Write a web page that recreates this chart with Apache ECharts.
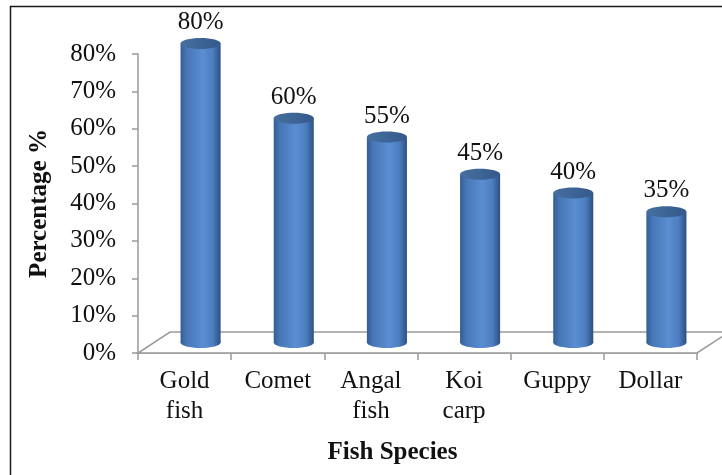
<!DOCTYPE html>
<html>
<head>
<meta charset="utf-8">
<script src="https://cdn.jsdelivr.net/npm/echarts@6/dist/echarts.min.js"></script>
<style>
html,body{margin:0;padding:0;background:#fff;}
#chart{width:722px;height:475px;}
</style>
</head>
<body>
<div id="chart"></div>
<script>
const categories = ['Gold\nfish', 'Comet', 'Angal\nfish', 'Koi\ncarp', 'Guppy', 'Dollar'];
const values = [80, 60, 55, 45, 40, 35];
const yTickValues = [0, 10, 20, 30, 40, 50, 60, 70, 80];
const xAxisTitle = 'Fish Species';
const yAxisTitle = 'Percentage %';

const FONT = "'Liberation Serif', 'Times New Roman', serif";
const DX = 32, DY = -21;
const AXIS_COLOR = '#9a9a9a';

const chart = echarts.init(document.getElementById('chart'), null, {renderer: 'canvas'});

const bodyGradient = new echarts.graphic.LinearGradient(0, 0, 1, 0, [
  {offset: 0, color: '#335e96'},
  {offset: 0.15, color: '#4676b5'},
  {offset: 0.55, color: '#5a8ed2'},
  {offset: 0.8, color: '#4d7fc0'},
  {offset: 1, color: '#2c5082'}
]);
const topGradient = new echarts.graphic.LinearGradient(0, 0, 1, 0, [
  {offset: 0, color: '#46709f'},
  {offset: 1, color: '#34598a'}
]);

function renderFloor(params, api) {
  if (params.dataIndex !== 0) return;
  const cs = params.coordSys;
  const x0 = cs.x, x1 = cs.x + cs.width, y0 = cs.y + cs.height;
  return {
    type: 'group',
    children: [
      {
        type: 'polygon',
        shape: {points: [[x0, y0], [x1, y0], [x1 + DX, y0 + DY], [x0 + DX, y0 + DY]]},
        style: {fill: '#ffffff', stroke: AXIS_COLOR, lineWidth: 1.5}
      }
    ]
  };
}

function renderCylinder(params, api) {
  const idx = api.value(0);
  const v = api.value(1);
  const base = api.coord([idx, 0]);
  const top = api.coord([idx, v]);
  const bw = api.size([1, 0])[0];
  const w = bw * 0.43;
  const rx = w / 2, ry = 5.5;
  const cx = base[0] + DX / 2;
  const by = base[1] + DY / 2;
  const ty = top[1] + DY / 2;
  return {
    type: 'group',
    children: [
      {type: 'ellipse', shape: {cx: cx, cy: by, rx: rx, ry: ry}, style: {fill: bodyGradient}},
      {type: 'rect', shape: {x: cx - rx, y: ty, width: w, height: by - ty}, style: {fill: bodyGradient}},
      {type: 'ellipse', shape: {cx: cx, cy: ty, rx: rx, ry: ry}, style: {fill: topGradient}},
      {
        type: 'text',
        x: cx, y: ty - 21,
        style: {
          text: v + '%', fill: '#111', font: '25px ' + FONT,
          textAlign: 'center', textVerticalAlign: 'middle'
        }
      }
    ]
  };
}

const option = {
  animation: false,
  backgroundColor: '#ffffff',
  grid: {left: 138, right: 25, top: 54, bottom: 122, containLabel: false},
  graphic: [{
    type: 'rect', z: 100,
    shape: {x: 10.5, y: 6.5, width: 800, height: 600},
    style: {fill: 'none', stroke: '#1a1a1a', lineWidth: 1.5}
  }],
  xAxis: {
    type: 'category',
    data: categories,
    boundaryGap: true,
    name: xAxisTitle,
    nameLocation: 'middle',
    nameGap: 87,
    nameTextStyle: {fontFamily: FONT, fontSize: 25, fontWeight: 'bold', color: '#111', padding: [0, 50, 0, 0]},
    axisLine: {show: true, lineStyle: {color: AXIS_COLOR, width: 1.5}},
    axisTick: {show: true, length: 7, inside: false, lineStyle: {color: AXIS_COLOR, width: 1.5}},
    axisLabel: {fontFamily: FONT, fontSize: 25, color: '#111', margin: 13, lineHeight: 30, interval: 0},
    splitLine: {show: false}
  },
  yAxis: {
    type: 'value',
    min: 0, max: 80, interval: 10,
    name: yAxisTitle,
    nameLocation: 'middle',
    nameRotate: 90,
    nameGap: 86,
    nameTextStyle: {fontFamily: FONT, fontSize: 25, fontWeight: 'bold', color: '#111'},
    axisLine: {show: true, lineStyle: {color: AXIS_COLOR, width: 1.5}},
    axisTick: {show: true, length: 6, inside: false, lineStyle: {color: AXIS_COLOR, width: 1.5}},
    axisLabel: {
      fontFamily: FONT, fontSize: 25, color: '#111', margin: 22,
      formatter: function (val) { return yTickValues.indexOf(val) >= 0 ? val + '%' : ''; }
    },
    splitLine: {show: false}
  },
  series: [
    {
      type: 'custom',
      name: 'floor',
      renderItem: renderFloor,
      data: [[0, 0]],
      clip: false,
      z: 1,
      silent: true
    },
    {
      type: 'custom',
      name: 'Percentage',
      renderItem: renderCylinder,
      data: values.map(function (v, i) { return [i, v]; }),
      clip: false,
      z: 5,
      encode: {x: 0, y: 1}
    }
  ]
};
chart.setOption(option);
</script>
</body>
</html>
